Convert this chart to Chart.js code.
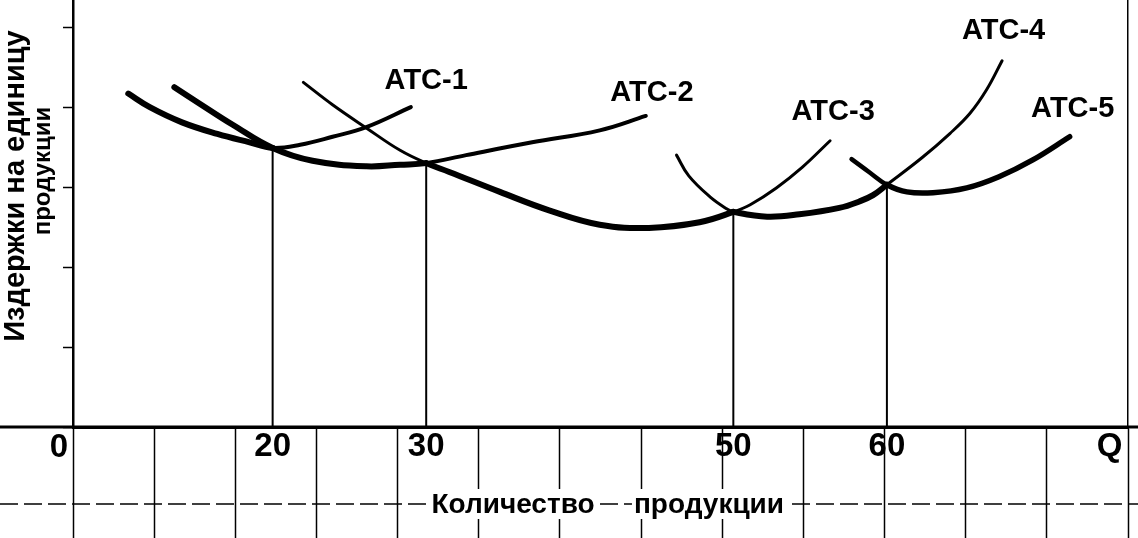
<!DOCTYPE html>
<html>
<head>
<meta charset="utf-8">
<script src="https://cdn.jsdelivr.net/npm/chart.js@4"></script>
<style>
  html, body { margin: 0; padding: 0; background: #fff; }
  canvas { display: block; }
</style>
</head>
<body>
<canvas id="cost-chart" width="1138" height="538"></canvas>
<script>
// short-run average cost curves: output Q and cost per unit
const atc1Q = [10.6, 12.0, 14.1, 16.4, 18.5, 20, 21.8, 23.9, 26.1, 29.0];
const atc1C = [4.17, 4.00, 3.81, 3.665, 3.56, 3.49, 3.53, 3.63, 3.75, 4.00];

const atc2Q = [13.6, 15.2, 17.4, 20, 22.6, 26.1, 28.3, 30, 32.6, 36.9, 41.3, 44.3];
const atc2C = [4.25, 4.05, 3.78, 3.49, 3.33, 3.26, 3.28, 3.30, 3.40, 3.56, 3.71, 3.89];

const atc3Q = [22.0, 23.9, 26.1, 28.3, 30, 31.5, 34.8, 38.0, 41.3, 44.5, 47.8, 50, 51.1, 52.8, 54.5, 56.3];
const atc3C = [4.31, 4.03, 3.74, 3.46, 3.30, 3.19, 2.94, 2.71, 2.53, 2.49, 2.56, 2.69, 2.78, 2.99, 3.25, 3.58];

const atc4Q = [46.3, 47.1, 48.5, 49.6, 50, 52.2, 54.3, 56.9, 58.2, 59.1, 60, 62.3, 64.1, 65.4, 66.5, 67.5];
const atc4C = [3.40, 3.14, 2.875, 2.725, 2.69, 2.63, 2.66, 2.74, 2.82, 2.90, 3.03, 3.37, 3.67, 3.92, 4.22, 4.58];

const atc5Q = [57.7, 58.9, 60, 61.3, 63.0, 65.2, 67.3, 69.5, 71.9];
const atc5C = [3.35, 3.18, 3.03, 2.94, 2.93, 2.99, 3.13, 3.34, 3.63];

// stretch of each curve that belongs to the long-run envelope (drawn bold)
const envelopeFrom = [0, 0, 30, 50, 60];
const envelopeTo = [20, 30, 50, 60, 100];

// points where neighbouring curves cross, dropped to the Q axis
const dropQ = [20, 30, 50, 60];
const dropC = [3.49, 3.30, 2.69, 3.03];

const curveNames = ['ATC-1', 'ATC-2', 'ATC-3', 'ATC-4', 'ATC-5'];
const nameQ = [30.0, 44.7, 56.5, 67.6, 72.1];
const nameC = [4.33, 4.18, 3.94, 4.95, 3.98];

const xTickValues = [20, 30, 50, 60, 74.5];
const xTickLabels = ['20', '30', '50', '60', 'Q'];
const yTickValues = [0, 1, 2, 3, 4, 5];

const xTitle = ['Количество', 'продукции'];
const yTitle = ['Издержки на единицу', 'продукции'];

const xMin = 7, xMax = 75.7, yMin = 0, yMax = 5.34;

const plain = "'Liberation Sans', Arial, sans-serif";

// the squared paper under the axis: 13 cells across
const paperStep = (xMax - xMin) / 13;
const paperQ = [];
for (let k = 0; k <= 13; k++) paperQ.push(Math.min(xMin + k * paperStep, xMax));

const curves = [[atc1Q, atc1C], [atc2Q, atc2C], [atc3Q, atc3C], [atc4Q, atc4C], [atc5Q, atc5C]];
const thinWidth = [4, 4, 3, 3, 4.5];
const boldWidth = [6, 6, 6, 6, 5.5];

const datasets = curves.map(([qs, cs], i) => ({
  label: curveNames[i],
  data: qs.map((q, j) => ({ x: q, y: cs[j] })),
  borderColor: '#000',
  borderWidth: thinWidth[i],
  borderCapStyle: 'round',
  borderJoinStyle: 'round',
  pointRadius: 0,
  tension: 0.4,
  segment: {
    borderWidth: ctx => (ctx.p0.parsed.x >= envelopeFrom[i] - 1e-6 && ctx.p1.parsed.x <= envelopeTo[i] + 1e-6)
      ? boldWidth[i] : thinWidth[i]
  }
}));

dropQ.forEach((q, i) => {
  datasets.push({
    label: 'Q' + q,
    data: [{ x: q, y: 0 }, { x: q, y: dropC[i] }],
    borderColor: '#000',
    borderWidth: 2,
    pointRadius: 0
  });
});

const paper = {
  id: 'paper',
  beforeDatasetsDraw(chart) {
    const { ctx, chartArea, width } = chart;
    ctx.save();
    ctx.strokeStyle = '#000';
    ctx.lineWidth = 3;
    ctx.beginPath();
    ctx.moveTo(0, chartArea.bottom);
    ctx.lineTo(width, chartArea.bottom);
    ctx.stroke();
    ctx.lineWidth = 1.5;
    ctx.setLineDash([18, 6]);
    ctx.beginPath();
    ctx.moveTo(0, chartArea.bottom + 77);
    ctx.lineTo(width, chartArea.bottom + 77);
    ctx.stroke();
    ctx.restore();
  }
};

const curveLabels = {
  id: 'curveLabels',
  afterDatasetsDraw(chart) {
    const { ctx, scales: { x, y } } = chart;
    ctx.save();
    ctx.fillStyle = '#000';
    ctx.font = 'bold 29px ' + plain;
    ctx.textAlign = 'center';
    ctx.textBaseline = 'middle';
    curveNames.forEach((name, i) => {
      ctx.fillText(name, x.getPixelForValue(nameQ[i]), y.getPixelForValue(nameC[i]));
    });
    ctx.restore();
  }
};

const axisTitles = {
  id: 'axisTitles',
  afterDraw(chart) {
    const { ctx, chartArea } = chart;
    ctx.save();
    ctx.fillStyle = '#000';
    ctx.textAlign = 'center';
    ctx.textBaseline = 'middle';

    // x title sits on a white patch over the ruled line
    ctx.font = 'bold 28px ' + plain;
    const ty = chartArea.bottom + 77;
    const centres = [513, 709];
    xTitle.forEach((word, i) => {
      const w = ctx.measureText(word).width;
      ctx.fillStyle = '#fff';
      ctx.fillRect(centres[i] - w / 2 - 2, ty - 15, w + 4, 30);
      ctx.fillStyle = '#000';
      ctx.fillText(word, centres[i], ty + 1);
    });

    ctx.save();
    ctx.font = 'bold 29px ' + plain;
    ctx.translate(chartArea.left - 57, 186);
    ctx.rotate(-Math.PI / 2);
    ctx.fillText(yTitle[0], 0, 0, 320);
    ctx.restore();

    ctx.save();
    ctx.font = 'bold 24px ' + plain;
    ctx.translate(chartArea.left - 30, 171);
    ctx.rotate(-Math.PI / 2);
    ctx.fillText(yTitle[1], 0, 0, 134);
    ctx.restore();

    ctx.restore();
  }
};

new Chart(document.getElementById('cost-chart').getContext('2d'), {
  type: 'line',
  data: { datasets },
  plugins: [paper, curveLabels, axisTitles],
  options: {
    responsive: false,
    animation: false,
    devicePixelRatio: 1,
    layout: { padding: 0 },
    plugins: { legend: { display: false }, tooltip: { enabled: false } },
    scales: {
      x: {
        type: 'linear',
        min: xMin,
        max: xMax,
        afterBuildTicks: axis => {
          axis.ticks = paperQ.concat(xTickValues).sort((a, b) => a - b).map(v => ({ value: v }));
        },
        afterFit: axis => {
          axis.height = 111;
          axis.paddingLeft = 0;
          axis.paddingRight = 0;
        },
        grid: {
          drawOnChartArea: false,
          drawTicks: true,
          tickLength: 111,
          tickWidth: 1.5,
          tickColor: ctx => (ctx.tick && ctx.tick.label) ? 'rgba(0,0,0,0)' : '#000'
        },
        border: { color: '#000', width: 3 },
        ticks: {
          autoSkip: false,
          maxRotation: 0,
          minRotation: 0,
          padding: -111,
          color: '#000',
          font: { family: plain, size: 33, weight: 'bold' },
          callback: v => {
            const i = xTickValues.indexOf(v);
            return i >= 0 ? xTickLabels[i] : '';
          }
        }
      },
      y: {
        type: 'linear',
        position: 'left',
        min: yMin,
        max: yMax,
        afterBuildTicks: axis => {
          axis.ticks = yTickValues.map(v => ({ value: v }));
        },
        afterFit: axis => {
          axis.width = 73;
          axis.paddingTop = 0;
          axis.paddingBottom = 0;
        },
        grid: {
          drawOnChartArea: false,
          drawTicks: true,
          tickLength: 10,
          tickWidth: 1.5,
          tickColor: '#000'
        },
        border: { color: '#000', width: 2.5 },
        ticks: {
          padding: -5,
          labelOffset: 21,
          color: '#000',
          font: { family: plain, size: 33, weight: 'bold' },
          callback: v => (v === 0 ? '0' : '')
        }
      },
      y2: {
        type: 'linear',
        position: 'right',
        min: yMin,
        max: yMax,
        grid: { display: false },
        ticks: { display: false },
        border: { color: '#000', width: 1.5 },
        afterFit: axis => {
          axis.width = 10;
          axis.paddingTop = 0;
          axis.paddingBottom = 0;
        }
      }
    }
  }
});
</script>
</body>
</html>
